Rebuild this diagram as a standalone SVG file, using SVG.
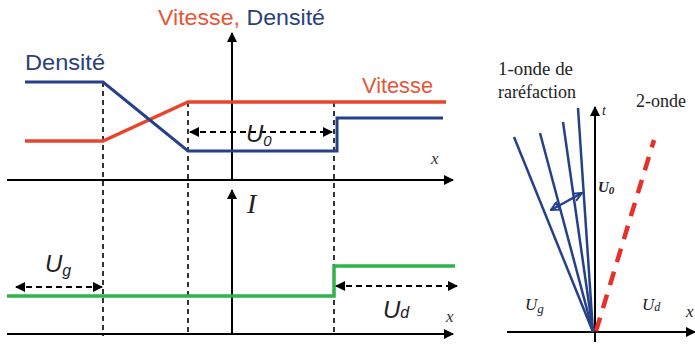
<svg xmlns="http://www.w3.org/2000/svg" width="695" height="344" viewBox="0 0 695 344">
<style>
.ax{stroke:#000;stroke-width:2;fill:none}
.dash{stroke:#000;stroke-width:1.6;stroke-dasharray:5 4;fill:none}
.darr{stroke:#000;stroke-width:2;stroke-dasharray:6 4;fill:none}
.blue{stroke:#24418a;stroke-width:3;fill:none}
.red{stroke:#e8462c;stroke-width:3.5;fill:none}
.green{stroke:#2fb34a;stroke-width:3.5;fill:none}
.ray{stroke:#24418a;stroke-width:2.5;fill:none}
.sans{font-family:"Liberation Sans",Arial,sans-serif}
.serif{font-family:"Liberation Serif","Times New Roman",serif}
</style>
<defs>
<marker id="ah" markerWidth="10" markerHeight="10" refX="9" refY="5" orient="auto" markerUnits="userSpaceOnUse">
<path d="M0,0 L10,5 L0,10 Z" fill="#000"/>
</marker>
<marker id="ahs" markerWidth="10" markerHeight="10" refX="1" refY="5" orient="auto" markerUnits="userSpaceOnUse">
<path d="M10,0 L0,5 L10,10 Z" fill="#000"/>
</marker>
<marker id="bah" markerWidth="10" markerHeight="10" refX="9" refY="5" orient="auto" markerUnits="userSpaceOnUse">
<path d="M0,1 L9,5 L0,9" fill="none" stroke="#24418a" stroke-width="2"/>
</marker>
<marker id="bahs" markerWidth="10" markerHeight="10" refX="1" refY="5" orient="auto" markerUnits="userSpaceOnUse">
<path d="M9,1 L1,5 L9,9 Z" fill="none" stroke="#24418a" stroke-width="2"/>
</marker>
</defs>
<rect width="695" height="344" fill="#fff"/>

<g id="connectors">
<!-- axes left -->
<line class="ax" x1="7" y1="180" x2="453" y2="180" marker-end="url(#ah)"/>
<line class="ax" x1="7" y1="334" x2="453" y2="334" marker-end="url(#ah)"/>
<line class="ax" x1="232" y1="180" x2="232" y2="33" marker-end="url(#ah)"/>
<line class="ax" x1="232" y1="334" x2="232" y2="190" marker-end="url(#ah)"/>
<!-- dashed verticals -->
<line class="dash" x1="103" y1="82" x2="103" y2="336"/>
<line class="dash" x1="188" y1="102" x2="188" y2="336"/>
<line class="dash" x1="334" y1="102" x2="334" y2="336"/>
<!-- curves -->
<polyline class="red" points="25,141 103,141 188,102 446,102"/>
<polyline class="blue" points="25,82 103,82 188,151 337,151 337,118 443,118"/>
<polyline class="green" points="7,296 334,296 334,266 455,266"/>
<!-- dashed double arrows -->
<line class="darr" x1="190" y1="132" x2="332" y2="132" marker-start="url(#ahs)" marker-end="url(#ah)"/>
<line class="darr" x1="16" y1="287" x2="102" y2="287" marker-start="url(#ahs)" marker-end="url(#ah)"/>
<line class="darr" x1="336" y1="286" x2="457" y2="286" marker-start="url(#ahs)" marker-end="url(#ah)"/>
<!-- right diagram -->
<line class="ax" x1="507" y1="332" x2="695" y2="332" marker-end="url(#ah)"/>
<line class="ax" x1="595" y1="342" x2="595" y2="107" marker-end="url(#ah)"/>
<line class="ray" x1="593" y1="332" x2="514" y2="137"/>
<line class="ray" x1="593" y1="332" x2="540" y2="133"/>
<line class="ray" x1="593" y1="332" x2="563" y2="122"/>
<line class="ray" x1="593" y1="332" x2="578" y2="108"/>
<line x1="596" y1="331" x2="654" y2="140" stroke="#e8302a" stroke-width="4.5" stroke-dasharray="14 10"/>
<line x1="551" y1="210" x2="582" y2="193" stroke="#24418a" stroke-width="2.5" marker-start="url(#bahs)" marker-end="url(#bah)"/>
</g>

<g id="labels-left">
<text class="sans" x="158" y="25" font-size="22" textLength="167" lengthAdjust="spacingAndGlyphs"><tspan fill="#e8553a">Vitesse, </tspan><tspan fill="#2b3f7a">Densité</tspan></text>
<text class="sans" x="25" y="70" font-size="22" fill="#2b3f7a" textLength="80" lengthAdjust="spacingAndGlyphs">Densité</text>
<text class="sans" x="362" y="93" font-size="22" fill="#e8553a" textLength="71" lengthAdjust="spacingAndGlyphs">Vitesse</text>
<text class="sans" x="246" y="142" font-size="24" font-style="italic" fill="#222">U<tspan font-size="15" dy="4">0</tspan></text>
<text class="serif" x="247" y="213" font-size="28" font-style="italic" fill="#222">I</text>
<text class="sans" x="45" y="272" font-size="24" font-style="italic" fill="#222">U<tspan font-size="16" dy="4">g</tspan></text>
<text class="sans" x="383" y="318" font-size="24" font-style="italic" fill="#222">U<tspan font-size="16" dy="0">d</tspan></text>
<text class="serif" x="431" y="164" font-size="17" font-style="italic" fill="#333">x</text>
<text class="serif" x="446" y="322" font-size="17" font-style="italic" fill="#333">x</text>
</g>

<g id="labels-right">
<text class="serif" x="498" y="75" font-size="18" fill="#222" textLength="75" lengthAdjust="spacingAndGlyphs">1-onde de</text>
<text class="serif" x="498" y="98" font-size="18" fill="#222">raréfaction</text>
<text class="serif" x="636" y="107" font-size="18" fill="#222">2-onde</text>
<text class="serif" x="602" y="115" font-size="14" font-style="italic" fill="#222">t</text>
<text class="serif" x="598" y="192" font-size="15" font-style="italic" font-weight="bold" fill="#222">U<tspan font-size="11" dy="2">0</tspan></text>
<text class="serif" x="525" y="310" font-size="17" font-style="italic" fill="#222">U<tspan font-size="13" dy="3">g</tspan></text>
<text class="serif" x="642" y="310" font-size="17" font-style="italic" fill="#222">U<tspan font-size="12" dy="1">d</tspan></text>
<text class="serif" x="686" y="317" font-size="17" font-style="italic" fill="#222">x</text>
</g>
</svg>
